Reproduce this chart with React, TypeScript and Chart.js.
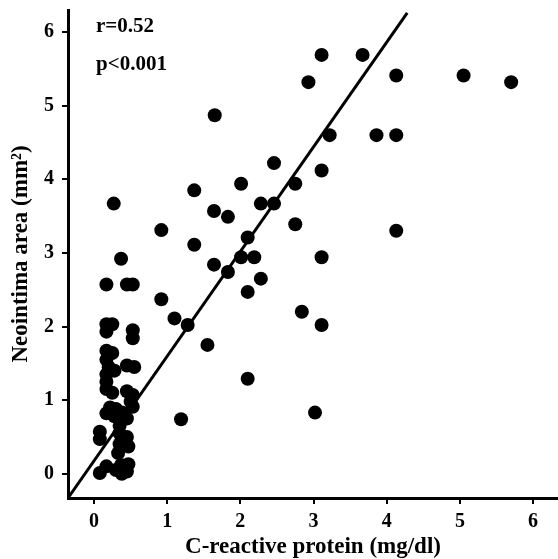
import React, { useEffect, useRef } from "react";
import { Chart, registerables } from "chart.js";

Chart.register(...registerables);

// C-reactive protein (mg/dl)
const crpValues = [
  1.65, 0.27, 0.37, 0.92, 1.37, 1.37, 1.64, 1.83, 2.01, 2.46,
  2.28, 2.46, 2.10, 2.01, 2.19, 1.64, 1.83, 2.28, 3.11, 3.67,
  2.93, 4.13, 5.05, 5.70, 3.22, 3.86, 4.13, 3.11, 2.75, 2.75,
  4.13, 3.11, 2.84, 3.11, 3.02, 0.92, 1.10, 1.28, 1.55, 2.10,
  2.10, 1.19,
  0.17, 0.45, 0.53, 0.17, 0.25, 0.17, 0.53, 0.53, 0.17, 0.25,
  0.17, 0.20, 0.17, 0.28, 0.17, 0.17, 0.25, 0.45, 0.55, 0.45,
  0.53, 0.50, 0.22, 0.30, 0.17, 0.38, 0.53, 0.28, 0.45, 0.35,
  0.35, 0.45, 0.47, 0.35, 0.33, 0.08, 0.08, 0.08, 0.17, 0.30,
  0.37, 0.45, 0.47, 0.38,
];

// Neointima area (mm²)
const neointimaValues = [
  4.87, 3.67, 2.92, 3.31, 3.85, 3.11, 3.57, 3.49, 3.94, 4.22,
  3.67, 3.67, 3.21, 2.94, 2.94, 2.84, 2.74, 2.65, 5.69, 5.69,
  5.32, 5.41, 5.41, 5.32, 4.60, 4.60, 4.60, 4.12, 3.94, 3.39,
  3.30, 2.94, 2.20, 2.02, 0.83, 2.37, 2.11, 2.02, 1.75, 2.47,
  1.29, 0.74,
  2.57, 2.57, 2.57, 2.03, 2.03, 1.93, 1.95, 1.84, 1.67, 1.64,
  1.55, 1.45, 1.35, 1.40, 1.25, 1.15, 1.10, 1.47, 1.45, 1.12,
  1.07, 0.98, 0.90, 0.88, 0.82, 0.83, 0.91, 0.78, 0.75, 0.65,
  0.55, 0.50, 0.37, 0.40, 0.28, 0.57, 0.47, 0.01, 0.10, 0.05,
  0.12, 0.03, 0.13, 0.00,
];

// Regression line end points
const fitX = [-0.355, 4.28];
const fitY = [-0.33, 6.26];

const xTicks = [0, 1, 2, 3, 4, 5, 6];
const yTicks = [0, 1, 2, 3, 4, 5, 6];
const xRange = [-0.355, 6.34];
const yRange = [-0.33, 6.3];

const statLabels = ["r=0.52", "p<0.001"];
const xTitle = "C-reactive protein (mg/dl)";
const yTitle = "Neointima area (mm\u00B2)";

const FONT = '"Liberation Serif", "Times New Roman", serif';

export default function App() {
  const ref = useRef<HTMLCanvasElement | null>(null);

  useEffect(() => {
    const canvas = ref.current;
    if (!canvas) return;

    const statPlugin = {
      id: "statText",
      afterDraw(chart: any) {
        const ctx = chart.ctx;
        ctx.save();
        ctx.fillStyle = "#000";
        ctx.font = `bold 21px ${FONT}`;
        ctx.textBaseline = "middle";
        ctx.textAlign = "left";
        ctx.fillText(statLabels[0], 96, 27);
        ctx.fillText(statLabels[1], 96, 65);
        ctx.restore();
      },
    };

    const chart = new Chart(canvas, {
      type: "scatter",
      data: {
        datasets: [
          {
            data: crpValues.map((x, i) => ({ x, y: neointimaValues[i] })),
            backgroundColor: "#000",
            borderColor: "#000",
            borderWidth: 0,
            pointRadius: 7,
            pointHoverRadius: 7,
          },
          {
            data: fitX.map((x, i) => ({ x, y: fitY[i] })),
            showLine: true,
            borderColor: "#000",
            borderWidth: 3,
            pointRadius: 0,
            fill: false,
          } as any,
        ],
      },
      options: {
        animation: false,
        responsive: false,
        devicePixelRatio: 1,
        layout: { autoPadding: false, padding: { top: 10, right: 0, left: 0, bottom: 0 } },
        plugins: {
          legend: { display: false },
          tooltip: { enabled: false },
        },
        scales: {
          x: {
            type: "linear",
            min: xRange[0],
            max: xRange[1],
            afterBuildTicks: (s: any) => {
              s.ticks = xTicks.map((v) => ({ value: v }));
            },
            afterFit: (s: any) => {
              s.height = 61;
              s.paddingLeft = 0;
              s.paddingRight = 0;
            },
            grid: {
              display: true,
              drawOnChartArea: false,
              drawTicks: true,
              tickLength: 6,
              color: "#000",
              lineWidth: 2,
            },
            border: { display: true, color: "#000", width: 3 },
            ticks: {
              color: "#000",
              padding: 6,
              font: { family: FONT, size: 20, weight: "bold" },
            },
            title: {
              display: true,
              text: xTitle,
              color: "#000",
              font: { family: FONT, size: 23, weight: "bold", lineHeight: 1 },
              padding: { top: 0, bottom: 0 },
            },
          },
          y: {
            type: "linear",
            min: yRange[0],
            max: yRange[1],
            afterBuildTicks: (s: any) => {
              s.ticks = yTicks.map((v) => ({ value: v }));
            },
            afterFit: (s: any) => {
              s.width = 68;
              s.paddingTop = 0;
              s.paddingBottom = 0;
            },
            grid: {
              display: true,
              drawOnChartArea: false,
              drawTicks: true,
              tickLength: 6,
              color: "#000",
              lineWidth: 2,
            },
            border: { display: true, color: "#000", width: 3 },
            ticks: {
              color: "#000",
              padding: 8,
              font: { family: FONT, size: 20, weight: "bold" },
            },
            title: {
              display: true,
              text: yTitle,
              color: "#000",
              font: { family: FONT, size: 23, weight: "bold", lineHeight: 1 },
              padding: { top: 10, bottom: 0 },
            },
          },
        },
      },
      plugins: [statPlugin],
    });

    return () => chart.destroy();
  }, []);

  return (
    <div style={{ position: "fixed", left: 0, top: 0, width: 558, height: 559, background: "#fff" }}>
      <canvas ref={ref} width={558} height={559} style={{ width: 558, height: 559, display: "block" }} />
    </div>
  );
}
